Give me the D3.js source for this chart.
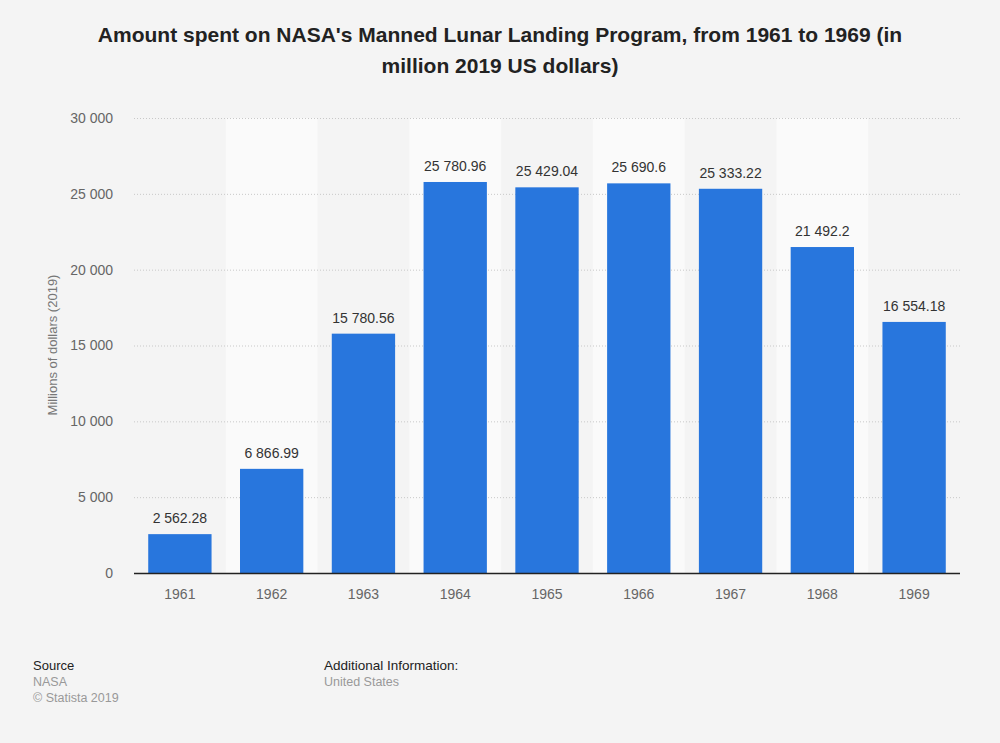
<!DOCTYPE html>
<html><head><meta charset="utf-8">
<script src="https://cdn.jsdelivr.net/npm/d3@7"></script>
<style>body{margin:0;background:#f4f4f4;font-family:"Liberation Sans",Arial,sans-serif;}</style>
</head><body>
<svg id="c" width="1000" height="743"></svg>
<script>
const categories = ["1961","1962","1963","1964","1965","1966","1967","1968","1969"];
const values = [2562.28, 6866.99, 15780.56, 25780.96, 25429.04, 25690.6, 25333.22, 21492.2, 16554.18];
const labels = ["2 562.28","6 866.99","15 780.56","25 780.96","25 429.04","25 690.6","25 333.22","21 492.2","16 554.18"];
const yTicks = [0, 5000, 10000, 15000, 20000, 25000, 30000];

const svg = d3.select("#c");
svg.append("rect").attr("width",1000).attr("height",743).attr("fill","#f4f4f4");
const L=134, R=960, T=118, B=573;
const x = d3.scaleBand().domain(categories).range([L,R]).paddingInner(0.31).paddingOuter(0.155);
const y = d3.scaleLinear().domain([0,30000]).range([B,T]);
const fmt = v => d3.format(",")(v).replace(/,/g," ");

// stripes
svg.append("g").selectAll("rect").data(categories.filter((d,i)=>i%2===1)).join("rect")
  .attr("x",d=>x(d)-x.step()*x.paddingInner()/2).attr("width",x.step())
  .attr("y",T).attr("height",B-T).attr("fill","#fafafa");

// grid
svg.append("g").selectAll("line").data(yTicks.filter(d=>d>0)).join("line")
  .attr("x1",L).attr("x2",R).attr("y1",d=>y(d)+0.5).attr("y2",d=>y(d)+0.5)
  .attr("stroke","#c8c8c8").attr("stroke-dasharray","1,2");

svg.append("g").selectAll("text").data(yTicks).join("text")
  .attr("x",113).attr("y",d=>y(d)).attr("dy","0.35em").attr("text-anchor","end")
  .attr("font-size",14).attr("fill","#666").text(fmt);

svg.append("g").selectAll("rect").data(values).join("rect")
  .attr("x",(d,i)=>x(categories[i])).attr("width",x.bandwidth())
  .attr("y",d=>y(d)).attr("height",d=>B-y(d)).attr("fill","#2876dd");

svg.append("g").selectAll("text").data(values).join("text")
  .attr("x",(d,i)=>x(categories[i])+x.bandwidth()/2).attr("y",d=>y(d)-11)
  .attr("text-anchor","middle").attr("font-size",14).attr("fill","#333")
  .text((d,i)=>labels[i]);

svg.append("line").attr("x1",L).attr("x2",R).attr("y1",B+0.5).attr("y2",B+0.5).attr("stroke","#222").attr("stroke-width",1.5);

svg.append("g").selectAll("text").data(categories).join("text")
  .attr("x",d=>x(d)+x.bandwidth()/2).attr("y",599).attr("text-anchor","middle")
  .attr("font-size",14).attr("fill","#666").text(d=>d);

svg.append("text").attr("transform","translate(57,345) rotate(-90)").attr("text-anchor","middle")
  .attr("font-size",13).attr("fill","#777").text("Millions of dollars (2019)");

const title = svg.append("text").attr("text-anchor","middle").attr("font-size",21).attr("font-weight","bold").attr("fill","#222");
title.append("tspan").attr("x",500).attr("y",42).text("Amount spent on NASA's Manned Lunar Landing Program, from 1961 to 1969 (in");
title.append("tspan").attr("x",500).attr("y",73).text("million 2019 US dollars)");

svg.append("text").attr("x",33).attr("y",670).attr("font-size",13).attr("fill","#222").text("Source");
svg.append("text").attr("x",33).attr("y",686).attr("font-size",12.5).attr("fill","#999").text("NASA");
svg.append("text").attr("x",33).attr("y",702).attr("font-size",12.5).attr("fill","#999").text("© Statista 2019");
svg.append("text").attr("x",324).attr("y",670).attr("font-size",13.5).attr("fill","#222").text("Additional Information:");
svg.append("text").attr("x",324).attr("y",686).attr("font-size",12.5).attr("fill","#999").text("United States");
</script>
</body></html>
